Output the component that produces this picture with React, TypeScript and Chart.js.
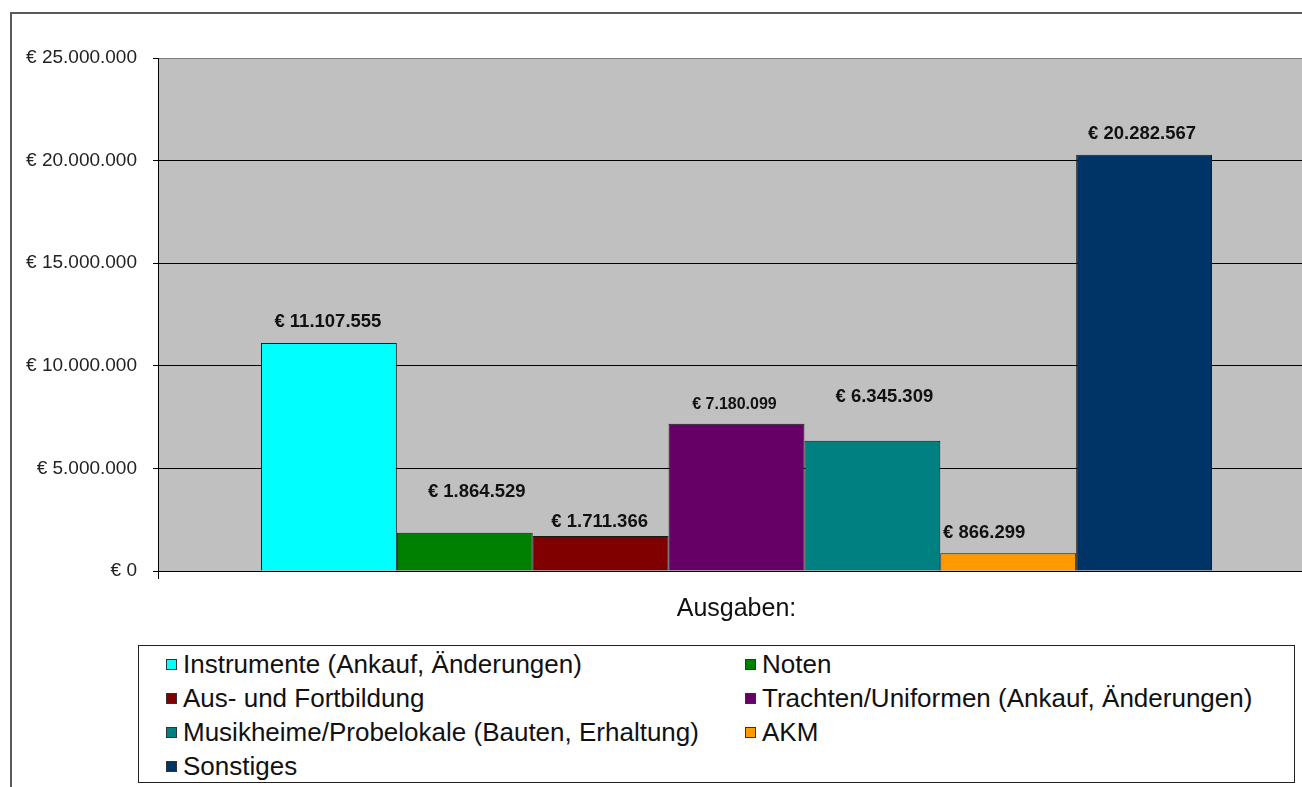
import React, { useEffect, useRef } from "react";
import { Chart, registerables } from "chart.js";

Chart.register(...registerables);

const categories: string[] = ["Ausgaben:"];
const seriesNames: string[] = [
  "Instrumente (Ankauf, Änderungen)",
  "Noten",
  "Aus- und Fortbildung",
  "Trachten/Uniformen (Ankauf, Änderungen)",
  "Musikheime/Probelokale (Bauten, Erhaltung)",
  "AKM",
  "Sonstiges",
];
const seriesValues: number[] = [11107555, 1864529, 1711366, 7180099, 6345309, 866299, 20282567];
const seriesColors: string[] = ["#00FFFF", "#008000", "#800000", "#660066", "#008080", "#FF9900", "#003366"];
const yTickValues: number[] = [0, 5000000, 10000000, 15000000, 20000000, 25000000];

// label placement tweaks (style, not data)
const labelDx: number[] = [-1, 12, -1, -2, 12, -24, -2];
const labelDy: number[] = [-21, -41, -14, -19, -44, -20, -21];
const labelSize: number[] = [18.5, 18.5, 18.5, 16, 18.5, 18.5, 18.5];

const FONT = "Arial, 'Liberation Sans', sans-serif";

function fmtEuro(v: number): string {
  const s = Math.round(v).toString().replace(/\B(?=(\d{3})+(?!\d))/g, ".");
  return "€ " + s;
}

const labelPlugin = {
  id: "barValueLabels",
  afterDatasetsDraw(chart: any) {
    const ctx = chart.ctx;
    ctx.save();
    ctx.textAlign = "center";
    ctx.textBaseline = "middle";
    ctx.fillStyle = "#111";
    chart.data.datasets.forEach((ds: any, i: number) => {
      const meta = chart.getDatasetMeta(i);
      const el = meta.data[0];
      if (!el) return;
      ctx.font = `bold ${labelSize[i]}px ${FONT}`;
      ctx.fillText(fmtEuro(ds.data[0]), el.x + labelDx[i], el.y + labelDy[i]);
    });
    ctx.restore();
  },
};

const plotBgPlugin = {
  id: "plotBg",
  beforeDraw(chart: any) {
    const { ctx, chartArea } = chart;
    ctx.save();
    ctx.fillStyle = "#C0C0C0";
    ctx.fillRect(chartArea.left, chartArea.top, chartArea.right - chartArea.left, chartArea.bottom - chartArea.top);
    ctx.restore();
  },
};

export default function App() {
  const ref = useRef<HTMLCanvasElement>(null);

  useEffect(() => {
    if (!ref.current) return;
    const chart = new Chart(ref.current, {
      type: "bar",
      data: {
        labels: categories,
        datasets: seriesNames.map((name, i) => ({
          label: name,
          data: [seriesValues[i]],
          backgroundColor: seriesColors[i],
          borderColor: "#1a1a1a",
          borderWidth: 1,
          categoryPercentage: 0.822,
          barPercentage: 1,
        })),
      },
      options: {
        responsive: false,
        animation: false,
        devicePixelRatio: 1,
        layout: { padding: { left: 0, top: 58, right: 5, bottom: 0 } },
        plugins: {
          legend: { display: false },
          tooltip: { enabled: false },
        },
        scales: {
          x: {
            afterFit: (scale: any) => {
              scale.height = 74;
            },
            grid: {
              display: true,
              drawOnChartArea: false,
              drawTicks: true,
              tickLength: 8,
              color: "#000",
            },
            border: { display: true, color: "#000", width: 1 },
            ticks: {
              color: "#111",
              padding: 15,
              font: { family: FONT, size: 25 },
            },
          },
          y: {
            min: 0,
            max: 25000000,
            afterFit: (scale: any) => {
              scale.width = 158;
            },
            afterBuildTicks: (scale: any) => {
              scale.ticks = yTickValues.map((v) => ({ value: v }));
            },
            grid: {
              color: (c: any) => (c.tick && c.tick.value === 25000000 ? "#808080" : "#000"),
              tickColor: "#000",
              tickLength: 5,
              lineWidth: 1,
            },
            border: { display: true, color: "#000", width: 1 },
            ticks: {
              color: "#222",
              padding: 16,
              font: { family: FONT, size: 19 },
              callback: (v: any) => fmtEuro(Number(v)),
            },
          },
        },
      },
      plugins: [plotBgPlugin, labelPlugin],
    });
    return () => chart.destroy();
  }, []);

  const colText = [183, 762];
  const rowTop = 647;
  const rowH = 34;

  return (
    <div
      style={{
        position: "fixed",
        left: 0,
        top: 0,
        width: 1302,
        height: 787,
        overflow: "hidden",
        background: "#fff",
      }}
    >
      <div
        style={{
          position: "absolute",
          left: 10,
          top: 12,
          width: 1400,
          height: 900,
          borderLeft: "2px solid #595959",
          borderTop: "2px solid #595959",
        }}
      />
      <canvas
        ref={ref}
        width={1320}
        height={645}
        style={{ position: "absolute", left: 0, top: 0, width: 1320, height: 645 }}
      />
      <div
        style={{
          position: "absolute",
          left: 138,
          top: 645,
          width: 1157,
          height: 138,
          boxSizing: "border-box",
          border: "1px solid #222",
          background: "#fff",
        }}
      />
      {seriesNames.map((name, i) => {
        const col = i % 2;
        const row = Math.floor(i / 2);
        return (
          <div
            key={name}
            style={{
              position: "absolute",
              left: colText[col] - 17,
              top: rowTop + row * rowH,
              height: rowH,
              display: "flex",
              alignItems: "center",
              fontFamily: FONT,
              fontSize: 26,
              color: "#111",
              whiteSpace: "nowrap",
            }}
          >
            <span
              style={{
                display: "inline-block",
                width: 11,
                height: 11,
                boxSizing: "border-box",
                background: seriesColors[i],
                border: "1px solid #333",
                marginRight: 6,
              }}
            />
            <span>{name}</span>
          </div>
        );
      })}
    </div>
  );
}
